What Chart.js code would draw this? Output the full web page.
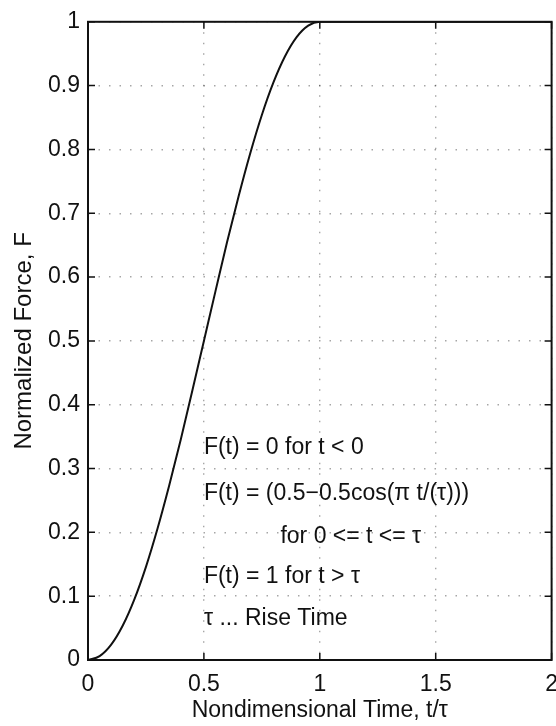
<!DOCTYPE html>
<html>
<head>
<script src="https://cdn.jsdelivr.net/npm/chart.js"></script>
<style>
  html, body { margin: 0; padding: 0; background: #fff; overflow: hidden; }
  #wrap { width: 556px; height: 726px; overflow: hidden; }
</style>
</head>
<body>
<div id="wrap"><canvas id="forceChart" width="569" height="726"></canvas></div>
<script>
// values
const timeValues = [0, 0.05, 0.1, 0.15, 0.2, 0.25, 0.3, 0.35, 0.4, 0.45, 0.5,
  0.55, 0.6, 0.65, 0.7, 0.75, 0.8, 0.85, 0.9, 0.95, 1.0, 1.5, 2.0];
const forceValues = [0, 0.006, 0.024, 0.054, 0.095, 0.146, 0.206, 0.273, 0.345, 0.422, 0.5,
  0.578, 0.655, 0.727, 0.794, 0.854, 0.905, 0.946, 0.976, 0.994, 1.0, 1.0, 1.0];
const xTicks = [0, 0.5, 1, 1.5, 2];
const yTicks = [0, 0.1, 0.2, 0.3, 0.4, 0.5, 0.6, 0.7, 0.8, 0.9, 1];
const noteLines = [
  { x: 0.5, y: 0.332, text: "F(t) = 0 for t < 0" },
  { x: 0.5, y: 0.260, text: "F(t) = (0.5\u22120.5cos(\u03c0 t/(\u03c4)))" },
  { x: 0.83, y: 0.193, text: "for 0 <= t <= \u03c4" },
  { x: 0.5, y: 0.130, text: "F(t) = 1 for t > \u03c4" },
  { x: 0.5, y: 0.065, text: "\u03c4 ... Rise Time" }
];

const FONT = "'Liberation Sans', Arial, sans-serif";

const framePlugin = {
  id: "frame",
  afterDraw(chart) {
    const ctx = chart.ctx;
    const a = chart.chartArea;
    const xs = chart.scales.x, ys = chart.scales.y;
    ctx.save();
    ctx.strokeStyle = "#111";
    ctx.lineWidth = 2;
    ctx.strokeRect(a.left, a.top, a.right - a.left, a.bottom - a.top);
    // inward ticks, matlab style
    ctx.lineWidth = 1.5;
    ctx.beginPath();
    xTicks.forEach(v => {
      const px = xs.getPixelForValue(v);
      ctx.moveTo(px, a.bottom); ctx.lineTo(px, a.bottom - 7);
      ctx.moveTo(px, a.top); ctx.lineTo(px, a.top + 7);
    });
    yTicks.forEach(v => {
      const py = ys.getPixelForValue(v);
      ctx.moveTo(a.left, py); ctx.lineTo(a.left + 7, py);
      ctx.moveTo(a.right, py); ctx.lineTo(a.right - 7, py);
    });
    ctx.stroke();
    // annotation block
    ctx.fillStyle = "#111";
    ctx.font = "23px " + FONT;
    ctx.textAlign = "left";
    ctx.textBaseline = "middle";
    noteLines.forEach(n => {
      ctx.fillText(n.text, xs.getPixelForValue(n.x), ys.getPixelForValue(n.y));
    });
    ctx.restore();
  }
};

new Chart(document.getElementById("forceChart"), {
  type: "line",
  data: {
    datasets: [{
      data: timeValues.map((t, i) => ({ x: t, y: forceValues[i] })),
      borderColor: "#111",
      borderWidth: 2,
      pointRadius: 0,
      cubicInterpolationMode: "monotone",
      fill: false
    }]
  },
  options: {
    responsive: false,
    animation: false,
    layout: { padding: { top: 13, right: 0, left: 0, bottom: 0 } },
    plugins: { legend: { display: false }, tooltip: { enabled: false } },
    scales: {
      x: {
        type: "linear",
        min: 0, max: 2,
        afterBuildTicks: s => { s.ticks = xTicks.map(v => ({ value: v })); },
        afterFit: s => { s.height = 66; },
        border: { display: false, dash: [1.5, 9] },
        grid: { color: "rgba(0,0,0,0.35)", lineWidth: 1.4, drawTicks: false },
        ticks: { color: "#111", font: { family: FONT, size: 23 }, padding: 11,
                 maxRotation: 0, callback: v => String(v) },
        title: { display: true, text: "Nondimensional Time, t/\u03c4", color: "#111",
                 font: { family: FONT, size: 23 }, padding: { top: 0, bottom: 2 } }
      },
      y: {
        min: 0, max: 1,
        afterBuildTicks: s => { s.ticks = yTicks.map(v => ({ value: v })); },
        afterFit: s => { s.width = 88; },
        border: { display: false, dash: [1.5, 9] },
        grid: { color: "rgba(0,0,0,0.35)", lineWidth: 1.4, drawTicks: false },
        ticks: { color: "#111", font: { family: FONT, size: 23 }, padding: 8,
                 callback: v => String(v) },
        title: { display: true, text: "Normalized Force, F", color: "#111",
                 font: { family: FONT, size: 24 }, padding: { top: 10, bottom: 0 } }
      }
    }
  },
  plugins: [framePlugin]
});
</script>
</body>
</html>
